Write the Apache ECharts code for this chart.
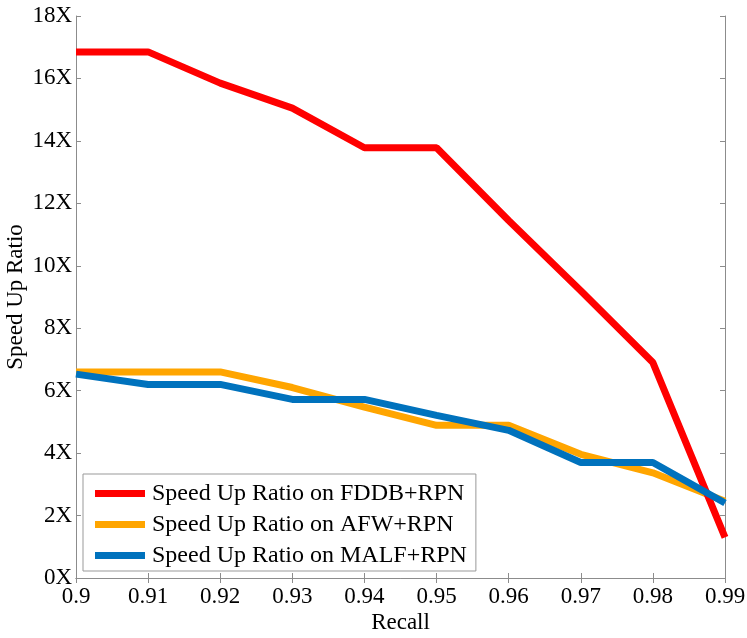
<!DOCTYPE html>
<html>
<head>
<meta charset="utf-8">
<script src="https://cdn.jsdelivr.net/npm/echarts@6/dist/echarts.min.js"></script>
<style>html,body{margin:0;padding:0;background:#fff}#c{width:747px;height:638px}</style>
</head>
<body>
<div id="c"></div>
<script>
const recall = [0.90, 0.91, 0.92, 0.93, 0.94, 0.95, 0.96, 0.97, 0.98, 0.99];
const fddb = [16.85, 16.85, 15.85, 15.05, 13.78, 13.78, 11.45, 9.2, 6.9, 1.3];
const afw  = [6.6, 6.6, 6.6, 6.1, 5.47, 4.89, 4.89, 3.96, 3.37, 2.46];
const malf = [6.53, 6.2, 6.2, 5.72, 5.72, 5.21, 4.73, 3.7, 3.7, 2.4];
const seriesNames = ['Speed Up Ratio on FDDB+RPN', 'Speed Up Ratio on AFW+RPN', 'Speed Up Ratio on MALF+RPN'];
const colors = ['#ff0000', '#ffa500', '#0072bd'];

const font = 'Liberation Serif, Times New Roman, serif';
const axisGray = '#8c8c8c';
const pair = ys => recall.map((x, i) => [x, ys[i]]);

const chart = echarts.init(document.getElementById('c'));
const baseX = {
  type: 'value', min: 0.9, max: 0.99, interval: 0.01,
  axisLine: { lineStyle: { color: axisGray, width: 1 } },
  axisTick: { inside: true, length: 5, lineStyle: { color: axisGray } },
  splitLine: { show: false }
};
const baseY = {
  type: 'value', min: 0, max: 18, interval: 2,
  axisLine: { show: true, lineStyle: { color: axisGray, width: 1 } },
  axisTick: { show: true, inside: true, length: 5, lineStyle: { color: axisGray } },
  splitLine: { show: false }
};
chart.setOption({
  animation: false,
  grid: { left: 76, right: 22, top: 16, bottom: 60, containLabel: false, outerBoundsMode: 'none' },
  xAxis: [
    Object.assign({}, baseX, {
      position: 'bottom',
      name: 'Recall', nameLocation: 'middle', nameGap: 33, nameMoveOverlap: false,
      nameTextStyle: { fontFamily: font, fontSize: 23, color: '#000' },
      axisLabel: { margin: 7, fontFamily: font, fontSize: 23, color: '#000',
        formatter: v => String(parseFloat(v.toFixed(2))) }
    }),
    Object.assign({}, baseX, { position: 'top', axisLabel: { show: false } })
  ],
  yAxis: [
    Object.assign({}, baseY, {
      position: 'left',
      name: 'Speed Up Ratio', nameLocation: 'middle', nameGap: 49, nameMoveOverlap: false,
      nameTextStyle: { fontFamily: font, fontSize: 23, color: '#000' },
      axisLabel: { margin: 4, fontFamily: font, fontSize: 23, color: '#000', formatter: '{value}X' }
    }),
    Object.assign({}, baseY, { position: 'right', axisLabel: { show: false } })
  ],
  legend: {
    orient: 'vertical', left: 83, top: 474,
    backgroundColor: '#fff',
    borderColor: '#999', borderWidth: 1, borderRadius: 0,
    padding: [7, 9, 3, 12],
    itemWidth: 50, itemHeight: 7, itemGap: 6,
    icon: 'rect',
    textStyle: { fontFamily: font, fontSize: 24, color: '#000', lineHeight: 25, padding: [0, 0, 0, 2] },
    data: seriesNames
  },
  series: [
    { name: seriesNames[0], type: 'line', data: pair(fddb), showSymbol: false, symbol: 'none',
      lineStyle: { color: colors[0], width: 7 }, itemStyle: { color: colors[0] }, z: 3 },
    { name: seriesNames[1], type: 'line', data: pair(afw), showSymbol: false, symbol: 'none',
      lineStyle: { color: colors[1], width: 7 }, itemStyle: { color: colors[1] }, z: 2 },
    { name: seriesNames[2], type: 'line', data: pair(malf), showSymbol: false, symbol: 'none',
      lineStyle: { color: colors[2], width: 7 }, itemStyle: { color: colors[2] }, z: 4 }
  ]
});
</script>
</body>
</html>
